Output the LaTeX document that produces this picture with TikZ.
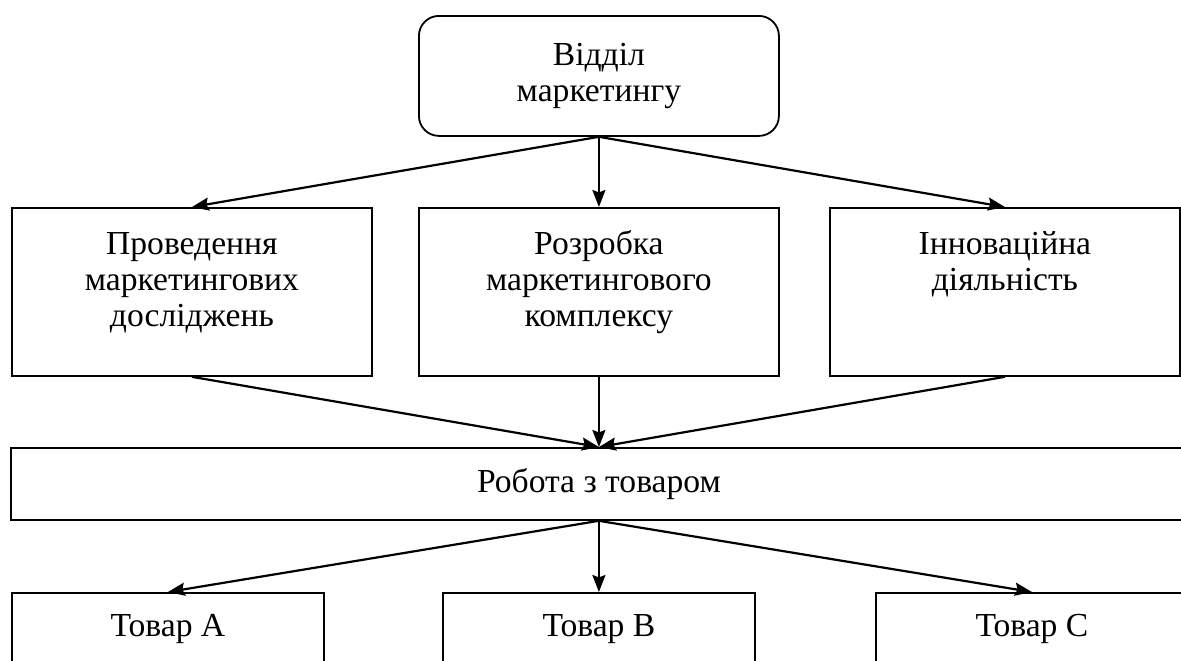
\documentclass[tikz,border=0pt]{standalone}
\usepackage{fontspec}
\setmainfont{Liberation Serif}
\usetikzlibrary{arrows.meta}
\usetikzlibrary{positioning}

\begin{document}
\begin{tikzpicture}[x=0.5pt, y=-0.5pt,
	box/.style={draw, line width=0.9pt, inner sep=0pt, anchor=north west},
	txt/.style={align=center, inner sep=0pt, font=\fontsize{16.8}{18}\selectfont},
	arr/.style={line width=1.1pt, -{Stealth[length=8.5pt, width=6.5pt, inset=1.2pt]}}]

		\useasboundingbox (0,0) rectangle (1181,660);
		\clip (0,0) rectangle (1181,660);

		\def\boxw{180pt}
		\def\rowh{84pt}
		\def\lowh{36pt}

		\node[box, txt, rounded corners=10pt, minimum width=\boxw, minimum height=60pt] (viddil) at (418,15) {Відділ\\маркетингу};

		\node[box, minimum width=\boxw, minimum height=\rowh] (doslid) at (11,207) {};
		\node[txt, below=11pt of doslid.north] (doslidt) {\strut Проведення\\маркетингових\\досліджень};

		\node[box, minimum width=\boxw, minimum height=\rowh] (kompl) at (418,207) {};
		\node[txt, below=11pt of kompl.north] (komplt) {\strut Розробка\\маркетингового\\комплексу};

		\node[box, minimum width=175pt, minimum height=\rowh] (innov) at (829,207) {};
		\node[txt, below=11pt of innov.north] (innovt) {\strut Інноваційна\\діяльність};

		\node[box, txt, minimum width=588pt, minimum height=\lowh] (robota) at (10,447) {Робота з товаром};

		\node[box, txt, minimum width=156pt, minimum height=\lowh] (tovara) at (11,592) {Товар A};
		\node[box, txt, minimum width=156pt, minimum height=\lowh] (tovarb) at (442,592) {Товар B};
		\node[box, txt, minimum width=156pt, minimum height=\lowh] (tovarc) at (875,592) {Товар C};

		\draw[arr] (viddil.south) -- (doslid.north);
		\draw[arr] (viddil.south) -- (kompl.north);
		\draw[arr] (viddil.south) -- (innov.north);

		\draw[arr] (doslid.south) -- (robota.north);
		\draw[arr] (kompl.south) -- (robota.north);
		\draw[arr] (innov.south) -- (robota.north);

		\draw[arr] (robota.south) -- (tovara.north);
		\draw[arr] (robota.south) -- (tovarb.north);
		\draw[arr] (robota.south) -- (tovarc.north);

	\end{tikzpicture}
\end{document}
